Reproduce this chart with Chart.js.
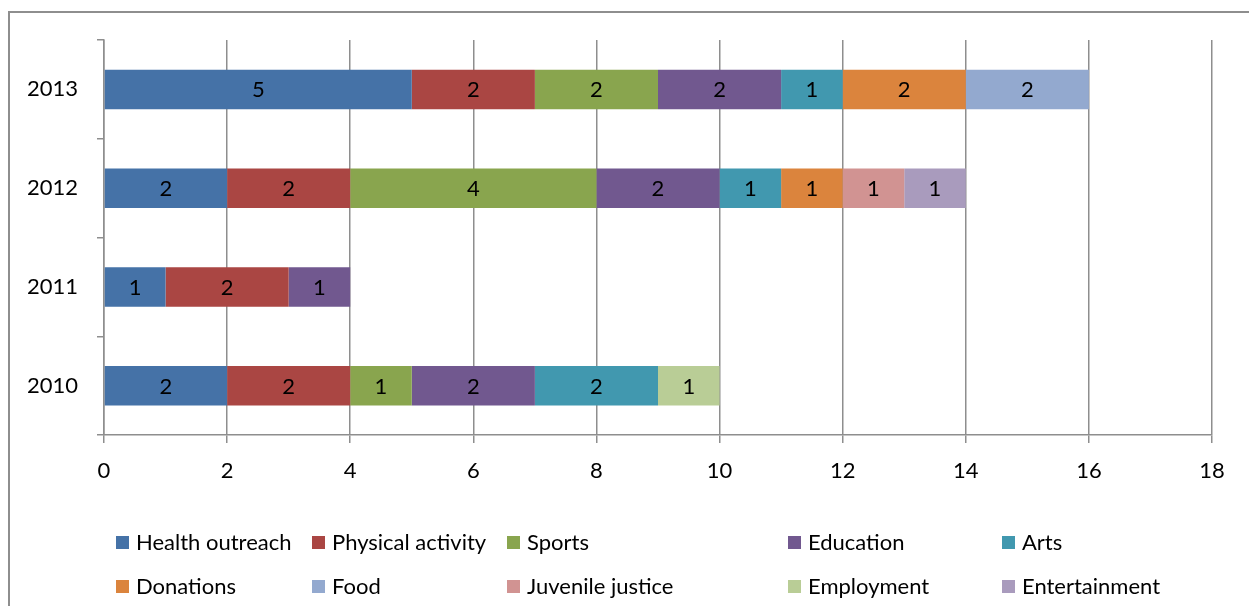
<!DOCTYPE html>
<html>
<head>
<meta charset="utf-8">
<script src="https://cdn.jsdelivr.net/npm/chart.js@4"></script>
<style>
  html, body { margin: 0; padding: 0; background: #fff; }
  #wrap { position: relative; width: 1249px; height: 606px; overflow: hidden; }
  #frame { position: absolute; left: 8px; top: 11px; width: 1400px; height: 800px;
           border-left: 2px solid #8e8e8e; border-top: 2px solid #8e8e8e; }
  #legend { position: absolute; left: 0; top: 0; font-family: Lato, sans-serif; font-size: 22px; color: #000; }
  .item { position: absolute; white-space: nowrap; line-height: 26px; }
  .item span.box { display: inline-block; width: 13px; height: 13px; margin-right: 7px; vertical-align: 1px; }
</style>
</head>
<body>
<div id="wrap">
  <div id="frame"></div>
  <canvas id="chart" width="1249" height="606"></canvas>
  <div id="legend"></div>
</div>
<script>
const years = ["2013", "2012", "2011", "2010"];

const healthOutreach   = [5, 2, 1, 2];
const physicalActivity = [2, 2, 2, 2];
const sports           = [2, 4, null, 1];
const education        = [2, 2, 1, 2];
const arts             = [1, 1, null, 2];
const donations        = [2, 1, null, null];
const food             = [2, null, null, null];
const juvenileJustice  = [null, 1, null, null];
const employment       = [null, null, null, 1];
const entertainment    = [null, 1, null, null];

const xTicks = [0, 2, 4, 6, 8, 10, 12, 14, 16, 18];

const series = [
    ["Health outreach", healthOutreach, "#4572A7"],
    ["Physical activity", physicalActivity, "#AA4643"],
    ["Sports", sports, "#89A54E"],
    ["Education", education, "#71588F"],
    ["Arts", arts, "#4198AF"],
    ["Donations", donations, "#DB843D"],
    ["Food", food, "#93A9CF"],
    ["Juvenile justice", juvenileJustice, "#D19392"],
    ["Employment", employment, "#B9CD96"],
    ["Entertainment", entertainment, "#A99BBD"]
];

// value labels in the middle of each segment
const segLabels = {
    id: "segLabels",
    afterDatasetsDraw(chart) {
        const ctx = chart.ctx;
        ctx.save();
        ctx.font = "22px Lato";
        ctx.fillStyle = "#000";
        ctx.textAlign = "center";
        ctx.textBaseline = "middle";
        chart.data.datasets.forEach((ds, i) => {
            chart.getDatasetMeta(i).data.forEach((bar, j) => {
                const v = ds.data[j];
                if (v === null || v === undefined) return;
                const p = bar.getProps(["x", "y", "base"], true);
                ctx.fillText(String(v), (p.x + p.base) / 2, p.y + 1);
            });
        });
        ctx.restore();
    }
};

const gridColor = "#8e8e8e";

new Chart(document.getElementById("chart"), {
    type: "bar",
    data: {
        labels: years,
        datasets: series.map(s => ({
            label: s[0],
            data: s[1],
            backgroundColor: s[2],
            borderWidth: 0,
            barPercentage: 0.4,
            categoryPercentage: 1.0
        }))
    },
    options: {
        indexAxis: "y",
        responsive: false,
        animation: false,
        layout: { padding: { top: 40, right: 37, left: 0, bottom: 0 } },
        plugins: { legend: { display: false }, tooltip: { enabled: false } },
        scales: {
            x: {
                stacked: true,
                min: 0,
                max: 18,
                afterBuildTicks: axis => { axis.ticks = xTicks.map(v => ({ value: v })); },
                afterFit: axis => { axis.height = 171; },
                grid: { color: gridColor, lineWidth: 1.5, tickLength: 8 },
                border: { color: gridColor, width: 1.5 },
                ticks: { color: "#000", padding: 15, font: { family: "Lato", size: 22 } }
            },
            y: {
                stacked: true,
                afterFit: axis => { axis.width = 104; },
                grid: { offset: true, drawOnChartArea: false, color: gridColor, lineWidth: 1.5, tickLength: 7 },
                border: { color: gridColor, width: 1.5 },
                ticks: { color: "#000", padding: 19, font: { family: "Lato", size: 22 } }
            }
        }
    },
    plugins: [segLabels]
});

// legend laid out in two rows of five columns
const colX = [116, 312, 507, 788, 1002];
const rowY = [542, 586];
const legend = document.getElementById("legend");
series.forEach((s, i) => {
    const el = document.createElement("div");
    el.className = "item";
    el.style.left = colX[i % 5] + "px";
    el.style.top = (rowY[Math.floor(i / 5)] - 13) + "px";
    el.innerHTML = `<span class="box" style="background:${s[2]}"></span>${s[0]}`;
    legend.appendChild(el);
});
</script>
</body>
</html>
